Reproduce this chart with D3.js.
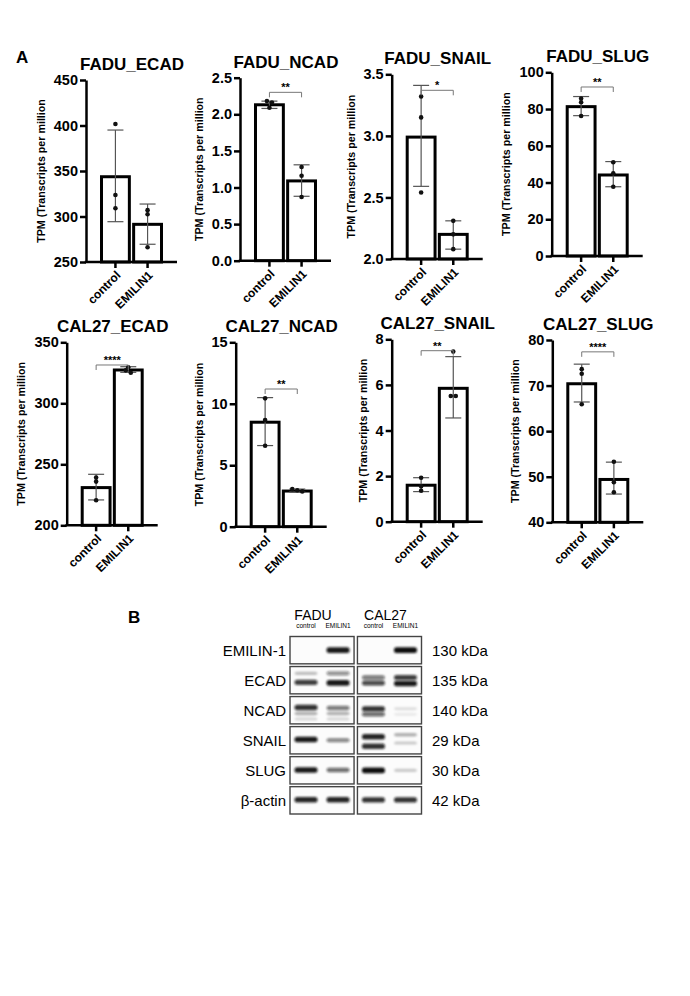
<!DOCTYPE html>
<html>
<head>
<meta charset="utf-8">
<script src="https://cdn.jsdelivr.net/npm/d3@7"></script>
<style>
  body { margin: 0; background: #fff; }
  svg { font-family: "Liberation Sans", Arial, sans-serif; }
</style>
</head>
<body>
<svg id="fig" width="690" height="996"></svg>
<script>
// ---- values ----
const groups = ["control", "EMILIN1"];
const panelTitles = ["FADU_ECAD", "FADU_NCAD", "FADU_SNAIL", "FADU_SLUG",
                     "CAL27_ECAD", "CAL27_NCAD", "CAL27_SNAIL", "CAL27_SLUG"];
const yDomains = [[250, 450], [0, 2.5], [2, 3.5], [0, 100], [200, 350], [0, 15], [0, 8], [40, 80]];
const yTickSteps = [50, 0.5, 0.5, 20, 50, 5, 2, 10];
const barMeans = [[343.7, 291.4], [2.13, 1.09], [2.99, 2.20], [81.3, 44.1],
                  [230.9, 327.3], [8.5, 2.9], [1.6, 5.85], [70.4, 49.4]];
const errLow = [[294.3, 269.5], [2.08, 0.88], [2.59, 2.08], [76.4, 37.7],
                [220.8, 325.4], [6.6, 2.82], [1.32, 4.55], [66.4, 46.2]];
const errHigh = [[395, 313.7], [2.18, 1.31], [3.41, 2.31], [86.8, 51.4],
                 [241.8, 330], [10.5, 3.06], [1.93, 7.24], [74.7, 53.2]];
const points = [
  [[401.6, 323.6, 309], [307, 302.4, 266.2]],
  [[2.18, 2.16, 2.09], [1.28, 1.16, 0.87]],
  [[3.32, 3.15, 2.54], [2.31, 2.20, 2.08]],
  [[85.7, 83.7, 76.2], [51, 45, 37.7]],
  [[239.1, 235.8, 220.5], [329.5, 327, 325]],
  [[10.44, 8.68, 6.59], [3.06, 2.96, 2.87]],
  [[1.93, 1.55, 1.36], [7.46, 5.51, 5.51]],
  [[73.6, 72.6, 65.9], [53.3, 48.8, 46.6]]
];
const sigStars = [null, "**", "*", "**", "****", "**", "**", "****"];
const sigLevels = [null, 2.30, 3.37, 92, 331.4, 11.2, 7.5, 77.4];

// western blot
const blotTargets = ["EMILIN-1", "ECAD", "NCAD", "SNAIL", "SLUG", "β-actin"];
const blotSizes = ["130 kDa", "135 kDa", "140 kDa", "29 kDa", "30 kDa", "42 kDa"];
const cellLines = ["FADU", "CAL27"];
// per lane (FADU control, FADU EMILIN1, CAL27 control, CAL27 EMILIN1): [place in strip 0-1, darkness 0-1]
const bandsEMILIN = [[], [[0.5, 0.95]], [], [[0.5, 1]]];
const bandsECAD = [[[0.25, 0.25], [0.58, 0.8]], [[0.25, 0.45], [0.6, 0.95]],
                   [[0.4, 0.55], [0.6, 0.75]], [[0.4, 0.8], [0.62, 0.95]]];
const bandsNCAD = [[[0.4, 0.85], [0.62, 0.3], [0.82, 0.15]], [[0.42, 0.55], [0.62, 0.3], [0.82, 0.15]],
                   [[0.45, 0.85], [0.65, 0.6]], [[0.45, 0.12], [0.65, 0.08]]];
const bandsSNAIL = [[[0.47, 0.95]], [[0.5, 0.5]], [[0.37, 0.9], [0.72, 0.85]], [[0.3, 0.3], [0.6, 0.2]]];
const bandsSLUG = [[[0.49, 0.95]], [[0.49, 0.6]], [[0.5, 1]], [[0.5, 0.2]]];
const bandsActin = [[[0.48, 0.9]], [[0.48, 0.9]], [[0.48, 0.85]], [[0.48, 0.85]]];
const blotBands = [bandsEMILIN, bandsECAD, bandsNCAD, bandsSNAIL, bandsSLUG, bandsActin];

// ---- layout of the eight small plots ----
const panelFrames = [
  { ax: 86, top: 80, bottom: 262 },
  { ax: 240, top: 77.7, bottom: 260.7 },
  { ax: 391.7, top: 74.3, bottom: 259 },
  { ax: 551.7, top: 72.3, bottom: 256 },
  { ax: 66.7, top: 342.3, bottom: 525.3 },
  { ax: 235.7, top: 342.3, bottom: 526.7 },
  { ax: 391.7, top: 339.3, bottom: 521.7 },
  { ax: 552.3, top: 340, bottom: 522.3 }
];

const svg = d3.select("#fig");

svg.append("text").attr("x", 16).attr("y", 63)
  .attr("font-size", 17).attr("font-weight", "bold").text("A");
svg.append("text").attr("x", 128).attr("y", 623)
  .attr("font-size", 17).attr("font-weight", "bold").text("B");

panelFrames.forEach((f, i) => drawPanel(i, f));
drawBlot();

function drawPanel(i, f) {
  const g = svg.append("g");
  const y = d3.scaleLinear().domain(yDomains[i]).range([f.bottom, f.top]);
  const x = d3.scaleBand().domain(groups).range([f.ax + 14, f.ax + 77]).paddingInner(0.04);
  const [lo, hi] = yDomains[i];
  const ticks = d3.range(lo, hi + yTickSteps[i] / 2, yTickSteps[i]);
  const fmt = yTickSteps[i] < 1 ? d3.format(".1f") : d3.format("d");

  // bars
  g.selectAll("rect.bar")
    .data(groups)
    .join("rect")
    .attr("class", "bar")
    .attr("x", (d) => x(d) + 1.5)
    .attr("width", x.bandwidth() - 3)
    .attr("y", (d, k) => y(barMeans[i][k]))
    .attr("height", (d, k) => f.bottom - y(barMeans[i][k]))
    .attr("fill", "#fff")
    .attr("stroke", "#000")
    .attr("stroke-width", 3);

  // error bars
  groups.forEach((grp, k) => {
    const cx = x(grp) + x.bandwidth() / 2;
    const yl = y(errLow[i][k]);
    const yh = y(errHigh[i][k]);
    const eb = g.append("g").attr("stroke", "#555").attr("stroke-width", 1.2);
    eb.append("line").attr("x1", cx).attr("x2", cx).attr("y1", yl).attr("y2", yh);
    eb.append("line").attr("x1", cx - 8).attr("x2", cx + 8).attr("y1", yl).attr("y2", yl);
    eb.append("line").attr("x1", cx - 8).attr("x2", cx + 8).attr("y1", yh).attr("y2", yh);

    // points, nudged sideways when they sit on top of each other
    const py = points[i][k].map((v) => y(v));
    py.forEach((p, j) => {
      const cluster = py.map((q, m) => m).filter((m) => Math.abs(py[m] - p) < 3);
      const pos = cluster.indexOf(j);
      const dx = cluster.length > 1 ? (pos - (cluster.length - 1) / 2) * 5 : 0;
      g.append("circle").attr("cx", cx + dx).attr("cy", p).attr("r", 2.3).attr("fill", "#111");
    });
  });

  // y axis
  const yAxis = g.append("g")
    .attr("transform", `translate(${f.ax},0)`)
    .call(d3.axisLeft(y).tickValues(ticks).tickFormat(fmt).tickSize(6).tickSizeOuter(0).tickPadding(2));
  yAxis.select(".domain").attr("stroke-width", 2.5);
  yAxis.selectAll(".tick line").attr("stroke-width", 2.5);
  yAxis.selectAll(".tick text")
    .attr("fill", "#000")
    .style("font-family", "'Liberation Sans', Arial, sans-serif")
    .style("font-size", "14.5px")
    .style("font-weight", "bold");

  // x axis
  g.append("line")
    .attr("x1", f.ax - 1.25).attr("x2", f.ax + 91)
    .attr("y1", f.bottom).attr("y2", f.bottom)
    .attr("stroke", "#000").attr("stroke-width", 2.5);
  groups.forEach((grp) => {
    const cx = x(grp) + x.bandwidth() / 2;
    g.append("line").attr("x1", cx).attr("x2", cx)
      .attr("y1", f.bottom).attr("y2", f.bottom + 6)
      .attr("stroke", "#000").attr("stroke-width", 2.5);
    g.append("text")
      .attr("transform", `translate(${cx + 3},${f.bottom + 11}) rotate(-45)`)
      .attr("text-anchor", "end")
      .attr("dy", "0.35em")
      .attr("font-size", 12).attr("font-weight", "bold")
      .text(grp);
  });

  // title
  g.append("text")
    .attr("x", f.ax + 46).attr("y", f.top - 10)
    .attr("text-anchor", "middle")
    .attr("font-size", 17).attr("font-weight", "bold")
    .text(panelTitles[i]);

  // y label
  const maxW = d3.max(yAxis.selectAll(".tick text").nodes(), (n) => n.getComputedTextLength());
  const lx = f.ax - 8 - maxW - 13;
  g.append("text")
    .attr("transform", `translate(${lx},${(f.top + f.bottom) / 2}) rotate(-90)`)
    .attr("text-anchor", "middle")
    .attr("dominant-baseline", "central")
    .attr("fill", "#000")
    .attr("font-size", 10.7).attr("font-weight", "bold")
    .text("TPM (Transcripts per million");

  // significance bracket
  if (sigStars[i]) {
    const c0 = x(groups[0]) + x.bandwidth() / 2;
    const c1 = x(groups[1]) + x.bandwidth() / 2;
    const yb = y(sigLevels[i]);
    g.append("path")
      .attr("d", `M${c0},${yb + 5}V${yb}H${c1}V${yb + 5}`)
      .attr("fill", "none").attr("stroke", "#777").attr("stroke-width", 1);
    g.append("text")
      .attr("x", (c0 + c1) / 2).attr("y", yb - 1)
      .attr("text-anchor", "middle")
      .attr("font-size", 11).attr("font-weight", "bold")
      .text(sigStars[i]);
  }
}

function drawBlot() {
  const b = svg.append("g");
  const blur = svg.append("defs").append("filter").attr("id", "soft")
    .attr("x", "-20%").attr("y", "-100%").attr("width", "140%").attr("height", "300%");
  blur.append("feGaussianBlur").attr("stdDeviation", 0.9);

  const rowY = d3.scaleBand().domain(blotTargets).range([636.5, 814]).paddingInner(0.09);
  const boxX = d3.scaleBand().domain(cellLines).range([290, 421.5]).paddingInner(0.05);
  const laneX = d3.scaleBand().domain(groups).range([0, boxX.bandwidth()]);
  const laneCenter = (li) => boxX(cellLines[Math.floor(li / 2)]) + laneX(groups[li % 2]) + laneX.bandwidth() / 2;

  // column headers
  cellLines.forEach((c) => {
    b.append("text")
      .attr("x", boxX(c) + boxX.bandwidth() / 2 + (c === "FADU" ? -9 : -4)).attr("y", 620)
      .attr("text-anchor", "middle").attr("font-size", 14)
      .text(c);
  });
  d3.range(4).forEach((li) => {
    b.append("text")
      .attr("x", laneCenter(li)).attr("y", 628)
      .attr("text-anchor", "middle").attr("font-size", 6.5)
      .text(groups[li % 2]);
  });

  blotTargets.forEach((t, r) => {
    const top = rowY(t);
    const h = rowY.bandwidth();
    b.append("text")
      .attr("x", 286).attr("y", top + h / 2)
      .attr("text-anchor", "end").attr("dominant-baseline", "central")
      .attr("font-size", 15).text(t);
    b.append("text")
      .attr("x", 432).attr("y", top + h / 2)
      .attr("dominant-baseline", "central")
      .attr("font-size", 15).text(blotSizes[r]);

    cellLines.forEach((c) => {
      b.append("rect")
        .attr("x", boxX(c)).attr("y", top)
        .attr("width", boxX.bandwidth()).attr("height", h)
        .attr("fill", "#fcfcfc").attr("stroke", "#444").attr("stroke-width", 1.4);
    });

    blotBands[r].forEach((lane, li) => {
      const cx = laneCenter(li);
      lane.forEach(([pos, v]) => {
        const bh = 2.6 + 3.2 * v;
        b.append("rect")
          .attr("x", cx - 11.5).attr("y", top + pos * h - bh / 2)
          .attr("width", 23).attr("height", bh)
          .attr("rx", 2.5)
          .attr("fill", "#111").attr("fill-opacity", v)
          .attr("filter", "url(#soft)");
      });
    });
  });
}
</script>
</body>
</html>
